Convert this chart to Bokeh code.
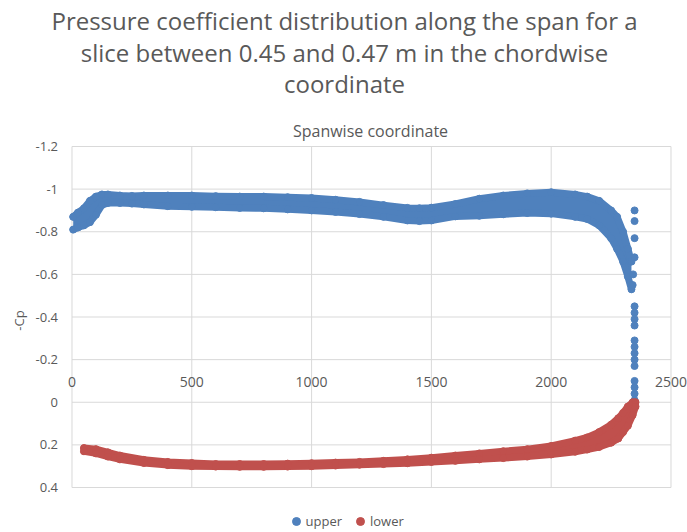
import math
from bokeh.plotting import figure
from bokeh.models import Range1d, FixedTicker, Legend, LegendItem, Label
from bokeh.embed import file_html
from bokeh.resources import INLINE

title_lines = [
    "Pressure coefficient distribution along the span for a",
    "slice between 0.45 and 0.47 m in the chordwise",
    "coordinate",
]
x_title = "Spanwise coordinate"
y_title = "-Cp"

x_ticks = [0, 500, 1000, 1500, 2000, 2500]
y_ticks = [-1.2, -1.0, -0.8, -0.6, -0.4, -0.2, 0.0, 0.2, 0.4]
y_tick_labels = ["-1.2", "-1", "-0.8", "-0.6", "-0.4", "-0.2", "0", "0.2", "0.4"]

# upper surface: band of points, read as its top and bottom edges
upper_x = [5, 25, 50, 75, 100, 125, 150, 200, 250, 300, 400, 500, 600, 700, 800, 900,
           1000, 1100, 1200, 1300, 1400, 1450, 1500, 1600, 1700, 1800, 1900, 2000,
           2100, 2150, 2200, 2250, 2275, 2300, 2320, 2335]
upper_top = [-0.87, -0.89, -0.91, -0.945, -0.965, -0.975, -0.975, -0.97, -0.968, -0.97,
             -0.97, -0.97, -0.967, -0.965, -0.965, -0.962, -0.958, -0.95, -0.94, -0.925,
             -0.912, -0.91, -0.913, -0.93, -0.955, -0.97, -0.98, -0.985, -0.975, -0.965,
             -0.945, -0.90, -0.87, -0.80, -0.72, -0.66]
upper_bottom = [-0.81, -0.82, -0.83, -0.845, -0.88, -0.925, -0.935, -0.935, -0.932, -0.928,
                -0.92, -0.917, -0.915, -0.912, -0.91, -0.905, -0.90, -0.893, -0.883, -0.87,
                -0.853, -0.85, -0.853, -0.872, -0.875, -0.882, -0.888, -0.885, -0.87, -0.86,
                -0.83, -0.77, -0.72, -0.66, -0.59, -0.53]
# isolated upper points at the tip
tip_x = [2348, 2348, 2348, 2348, 2342, 2340, 2348, 2348, 2348, 2348, 2348, 2348, 2348,
         2348, 2348, 2348, 2348, 2348, 2348]
tip_y = [-0.90, -0.85, -0.77, -0.68, -0.60, -0.55, -0.45, -0.42, -0.39, -0.36, -0.29,
         -0.26, -0.23, -0.20, -0.17, -0.10, -0.07, -0.04, -0.01]

# lower surface band
lower_x = [50, 100, 150, 200, 300, 400, 500, 600, 700, 800, 900, 1000, 1100, 1200, 1300,
           1400, 1500, 1600, 1700, 1800, 1900, 2000, 2100, 2150, 2200, 2250, 2280, 2300,
           2320, 2340, 2352]
lower_top = [0.215, 0.22, 0.235, 0.25, 0.27, 0.28, 0.285, 0.29, 0.29, 0.29, 0.288, 0.286,
             0.283, 0.28, 0.275, 0.268, 0.26, 0.25, 0.24, 0.23, 0.22, 0.205, 0.18, 0.165,
             0.14, 0.105, 0.075, 0.05, 0.02, 0.0, 0.0]
lower_bottom = [0.23, 0.24, 0.255, 0.268, 0.285, 0.295, 0.30, 0.302, 0.303, 0.303, 0.302,
                0.30, 0.297, 0.293, 0.29, 0.286, 0.28, 0.275, 0.268, 0.262, 0.255, 0.245,
                0.232, 0.222, 0.21, 0.19, 0.17, 0.14, 0.11, 0.06, 0.02]

BLUE = "#4F81BD"
RED = "#C0504D"
TXT = "#595959"
GRID = "#d9d9d9"
FONT = "Open Sans"

# the frame covers the whole canvas, so that titles, axes and legend all sit inside it
p = figure(width=687, height=532, output_backend="svg", toolbar_location=None,
           x_range=Range1d(-298.4, 2568.9), y_range=Range1d(0.6111, -1.885),
           x_axis_location="above", y_axis_location="left",
           min_border_left=0, min_border_right=0, min_border_bottom=0, min_border_top=0)
p.title.visible = False
p.outline_line_color = None
p.background_fill_color = "white"
p.border_fill_color = "white"

xa = p.xaxis[0]
xa.fixed_location = 0
xa.ticker = FixedTicker(ticks=x_ticks)
xa.axis_line_color = None
xa.major_tick_out = 0
xa.major_tick_in = 0
xa.minor_tick_out = 0
xa.minor_tick_in = 0
xa.major_label_standoff = 15
xa.major_label_text_font = FONT
xa.major_label_text_font_size = "14px"
xa.major_label_text_color = TXT

ya = p.yaxis[0]
ya.fixed_location = x_ticks[0]
ya.ticker = FixedTicker(ticks=y_ticks)
ya.major_label_overrides = dict(zip(y_ticks, y_tick_labels))
ya.axis_line_color = None
ya.major_tick_out = 0
ya.major_tick_in = 0
ya.minor_tick_out = 0
ya.minor_tick_in = 0
ya.major_label_standoff = 14
ya.major_label_text_font = FONT
ya.major_label_text_font_size = "13px"
ya.major_label_text_color = TXT

p.xgrid.visible = False
p.ygrid.visible = False
# grid lines limited to the plotted area
p.segment(x0=[x_ticks[0]] * len(y_ticks), x1=[x_ticks[-1]] * len(y_ticks),
          y0=y_ticks, y1=y_ticks, line_color=GRID, line_width=1, level="underlay")
p.segment(x0=x_ticks, x1=x_ticks, y0=[y_ticks[0]] * len(x_ticks), y1=[y_ticks[-1]] * len(x_ticks),
          line_color=GRID, line_width=1, level="underlay")

# upper band
p.varea(x=upper_x, y1=upper_top, y2=upper_bottom, fill_color=BLUE)
p.line(upper_x, upper_top, line_color=BLUE, line_width=7, line_cap="round", line_join="round")
p.line(upper_x, upper_bottom, line_color=BLUE, line_width=7, line_cap="round", line_join="round")
r_up = p.scatter(x=upper_x + upper_x + tip_x, y=upper_top + upper_bottom + tip_y,
                 size=7, fill_color=BLUE, line_color=BLUE)
# lower band
p.varea(x=lower_x, y1=lower_top, y2=lower_bottom, fill_color=RED)
p.line(lower_x, lower_top, line_color=RED, line_width=7, line_cap="round", line_join="round")
p.line(lower_x, lower_bottom, line_color=RED, line_width=7, line_cap="round", line_join="round")
r_lo = p.scatter(x=lower_x + lower_x, y=lower_top + lower_bottom,
                 size=7, fill_color=RED, line_color=RED)

legend = Legend(items=[LegendItem(label="upper", renderers=[r_up]),
                       LegendItem(label="lower", renderers=[r_lo])],
                orientation="horizontal", location=(285.5, 1),
                border_line_color=None, background_fill_alpha=0,
                label_text_font=FONT, label_text_font_size="13px", label_text_color=TXT,
                glyph_width=20, glyph_height=20, label_height=20, label_standoff=0,
                spacing=8, padding=0, margin=0)
p.add_layout(legend, "center")

# texts, positioned in screen pixels from the frame's bottom-left corner
p.add_layout(Label(x=18, y=212, x_units="screen", y_units="screen", text=y_title,
                   angle=math.pi / 2, text_align="center", text_baseline="middle",
                   text_font=FONT, text_font_size="13px", text_color=TXT))
p.add_layout(Label(x=370, y=402, x_units="screen", y_units="screen", text=x_title,
                   text_align="center", text_baseline="middle", text_font=FONT,
                   text_font_size="16px", text_color=TXT))
title_y = [512, 480, 449]
for line, ty in zip(title_lines, title_y):
    p.add_layout(Label(x=344, y=ty, x_units="screen", y_units="screen", text=line,
                       text_align="center", text_baseline="middle", text_font=FONT,
                       text_font_size="24px", text_color=TXT))

open("out.html", "w").write(file_html(p, INLINE))
